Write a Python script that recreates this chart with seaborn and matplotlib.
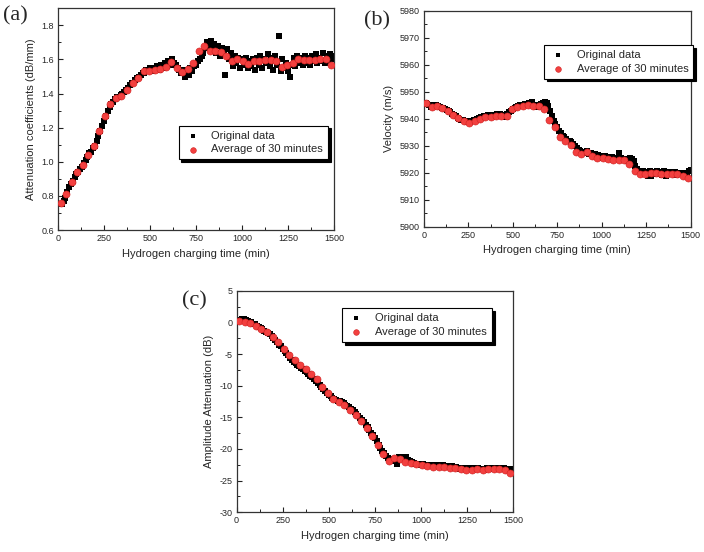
import numpy as np
import matplotlib
matplotlib.use("Agg")
import matplotlib.pyplot as plt
import matplotlib.ticker as mticker
import seaborn as sns

# ── Data ──────────────────────────────────────────────────────────────────────
# original readings every 10 min, 30-minute averages centred on 15, 45, ... min
T_RAW = list(range(10, 1501, 10))
T_AVG = list(range(15, 1500, 30))

ATT_RAW = [
    0.75, 0.75, 0.77, 0.79, 0.82, 0.85, 0.87, 0.89, 0.91, 0.93,
    0.94, 0.96, 0.97, 0.99, 1.01, 1.03, 1.05, 1.06, 1.08, 1.09,
    1.12, 1.15, 1.18, 1.21, 1.24, 1.27, 1.30, 1.32, 1.34, 1.35,
    1.37, 1.38, 1.38, 1.39, 1.40, 1.41, 1.42, 1.43, 1.45, 1.46,
    1.46, 1.48, 1.49, 1.50, 1.51, 1.52, 1.52, 1.54, 1.53, 1.55,
    1.53, 1.55, 1.54, 1.56, 1.54, 1.57, 1.55, 1.58, 1.56, 1.59,
    1.57, 1.60, 1.58, 1.57, 1.55, 1.54, 1.52, 1.54, 1.50, 1.53,
    1.51, 1.55, 1.53, 1.56, 1.57, 1.59, 1.60, 1.62, 1.64, 1.67,
    1.70, 1.68, 1.71, 1.66, 1.69, 1.64, 1.68, 1.62, 1.67, 1.63,
    1.51, 1.66, 1.60, 1.64, 1.56, 1.62, 1.58, 1.61, 1.55, 1.60,
    1.57, 1.61, 1.55, 1.59, 1.56, 1.60, 1.54, 1.61, 1.57, 1.62,
    1.55, 1.60, 1.58, 1.63, 1.56, 1.61, 1.54, 1.62, 1.57, 1.74,
    1.53, 1.60, 1.55, 1.58, 1.53, 1.50, 1.57, 1.61, 1.56, 1.62,
    1.58, 1.61, 1.57, 1.62, 1.58, 1.61, 1.57, 1.62, 1.59, 1.63,
    1.58, 1.61, 1.59, 1.64, 1.58, 1.62, 1.59, 1.63, 1.60, 1.62,
]
ATT_AVG = [
    0.761, 0.812, 0.883, 0.938, 0.980, 1.039, 1.092, 1.178, 1.269, 1.336,
    1.373, 1.385, 1.422, 1.460, 1.490, 1.533, 1.535, 1.538, 1.546, 1.556,
    1.584, 1.548, 1.529, 1.544, 1.582, 1.652, 1.678, 1.650, 1.652, 1.643,
    1.619, 1.588, 1.601, 1.590, 1.574, 1.588, 1.590, 1.595, 1.597, 1.593,
    1.558, 1.568, 1.578, 1.603, 1.595, 1.595, 1.597, 1.603, 1.603, 1.568,
]

VEL_RAW = [
    5946.0, 5945.5, 5945.0, 5944.5, 5944.8, 5945.0, 5944.9, 5944.6, 5944.3, 5944.0,
    5943.9, 5943.6, 5943.3, 5942.9, 5942.4, 5941.9, 5941.4, 5940.9, 5940.4, 5940.0,
    5939.7, 5939.4, 5939.2, 5939.0, 5938.9, 5938.8, 5939.0, 5939.4, 5939.7, 5940.0,
    5940.3, 5940.5, 5940.7, 5940.9, 5941.0, 5941.2, 5941.1, 5941.3, 5941.5, 5941.3,
    5941.6, 5941.4, 5941.7, 5941.5, 5941.2, 5940.6, 5941.8, 5942.5, 5943.0, 5943.6,
    5943.9, 5944.3, 5944.6, 5944.9, 5945.0, 5944.6, 5945.5, 5945.2, 5946.0, 5945.4,
    5946.3, 5945.1, 5944.4, 5945.0, 5944.6, 5945.6, 5946.0, 5946.3, 5945.8, 5944.6,
    5942.8, 5940.9, 5939.2, 5937.9, 5936.8, 5935.6, 5934.6, 5933.7, 5933.1, 5932.4,
    5931.9, 5931.6, 5931.2, 5930.6, 5930.0, 5929.3, 5928.5, 5927.9, 5927.6, 5927.8,
    5927.2, 5928.1, 5927.0, 5927.4, 5926.5, 5927.0, 5926.2, 5926.6, 5925.8, 5926.3,
    5925.6, 5926.1, 5925.4, 5925.9, 5925.2, 5925.8, 5925.0, 5925.6, 5924.9, 5927.3,
    5925.3, 5924.6, 5925.1, 5924.4, 5924.9, 5925.6, 5925.0, 5924.2, 5922.6, 5921.3,
    5920.8, 5920.2, 5920.6, 5919.6, 5920.3, 5918.9, 5920.5, 5918.6, 5920.1, 5919.4,
    5920.6, 5919.7, 5920.2, 5919.3, 5920.5, 5918.9, 5920.4, 5919.5, 5920.3, 5919.6,
    5920.1, 5919.2, 5920.0, 5919.4, 5919.8, 5919.3, 5919.9, 5919.6, 5920.5, 5921.0,
]
VEL_AVG = [
    5945.7, 5944.2, 5944.7, 5943.8, 5943.0, 5941.5, 5940.1, 5939.3, 5938.5, 5939.3,
    5940.0, 5940.5, 5940.8, 5941.0, 5941.0, 5941.1, 5943.5, 5944.2, 5944.8, 5945.1,
    5944.8, 5944.8, 5943.6, 5939.5, 5936.8, 5933.2, 5931.9, 5930.3, 5927.8, 5926.8,
    5927.5, 5926.2, 5925.6, 5925.3, 5925.1, 5924.6, 5924.6, 5924.8, 5923.2, 5920.8,
    5919.5, 5919.4, 5919.8, 5920.0, 5919.6, 5919.6, 5919.6, 5919.6, 5918.9, 5917.9,
]

AMP_RAW = [
    0.2, 0.4, 0.6, 0.5, 0.3, 0.2, 0.1, 0.0, -0.2, -0.3,
    -0.5, -0.7, -0.9, -1.1, -1.3, -1.5, -1.7, -1.9, -2.2, -2.5,
    -2.8, -3.1, -3.5, -3.8, -4.2, -4.5, -4.9, -5.2, -5.6, -5.9,
    -6.2, -6.4, -6.7, -6.9, -7.2, -7.4, -7.7, -7.9, -8.2, -8.4,
    -8.7, -9.0, -9.2, -9.5, -9.9, -10.2, -10.6, -10.9, -11.2, -11.4,
    -11.7, -11.9, -12.1, -12.3, -12.4, -12.5, -12.6, -12.8, -13.0, -13.2,
    -13.4, -13.7, -13.9, -14.2, -14.5, -14.8, -15.1, -15.5, -15.8, -16.2,
    -16.6, -17.0, -17.4, -17.8, -18.3, -18.8, -19.3, -19.8, -20.3, -20.7,
    -21.1, -21.4, -21.6, -21.8, -21.9, -21.8, -22.4, -21.3, -21.4, -21.3,
    -21.5, -21.3, -21.7, -21.9, -22.1, -22.2, -22.3, -22.3, -22.4, -22.5,
    -22.4, -22.5, -22.5, -22.6, -22.5, -22.6, -22.6, -22.7, -22.6, -22.7,
    -22.7, -22.6, -22.8, -22.7, -22.8, -22.8, -22.7, -22.8, -22.9, -23.0,
    -23.1, -23.0, -23.1, -23.0, -23.1, -23.0, -23.2, -23.1, -23.0, -23.1,
    -23.0, -23.2, -23.1, -23.3, -23.1, -23.0, -23.1, -23.0, -23.1, -23.0,
    -23.1, -23.0, -23.0, -23.1, -23.0, -23.1, -23.2, -23.3, -23.2, -23.3,
]
AMP_AVG = [
    0.27, 0.11, -0.05, -0.52, -1.05, -1.52, -2.26, -3.10, -4.16, -5.10,
    -5.95, -6.69, -7.42, -8.16, -9.00, -10.16, -11.21, -12.06, -12.53, -13.06,
    -13.85, -14.69, -15.53, -16.74, -17.90, -19.32, -20.75, -21.85, -21.38, -21.53,
    -22.11, -22.27, -22.43, -22.53, -22.64, -22.80, -22.80, -22.85, -22.95, -23.06,
    -23.22, -23.32, -23.32, -23.22, -23.32, -23.17, -23.11, -23.22, -23.37, -23.80,
]

XLABEL = "Hydrogen charging time (min)"

# ── Style ─────────────────────────────────────────────────────────────────────
sns.set_theme(style="ticks")
plt.rcParams["font.family"] = ["Liberation Sans", "DejaVu Sans"]
plt.rcParams["axes.linewidth"] = 0.9
RED = "#f2403f"


def draw_panel(fig, rect, raw, avg, ylim, major, ylabel, tag, tag_xy, leg_xy, fmt):
    ax = fig.add_axes(rect)
    sns.scatterplot(x=T_RAW, y=raw, ax=ax, marker="s", s=15, color="black",
                    linewidth=0, label="Original data", zorder=2)
    sns.scatterplot(x=T_AVG, y=avg, ax=ax, marker="o", s=26, color=RED,
                    edgecolor="#d02020", linewidth=0.4,
                    label="Average of 30 minutes", zorder=3)
    ax.set_xlim(0, 1500)
    ax.set_ylim(*ylim)
    ax.xaxis.set_major_locator(mticker.MultipleLocator(250))
    ax.xaxis.set_minor_locator(mticker.MultipleLocator(125))
    ax.yaxis.set_major_locator(mticker.MultipleLocator(major))
    ax.yaxis.set_minor_locator(mticker.MultipleLocator(major / 2))
    ax.yaxis.set_major_formatter(mticker.FormatStrFormatter(fmt))
    ax.tick_params(which="both", direction="in", labelsize=6.5, color="#222222")
    ax.tick_params(which="major", length=3.5, width=0.8, pad=3)
    ax.tick_params(which="minor", length=2, width=0.7)
    for sp in ax.spines.values():
        sp.set_color("#333333")
    ax.set_xlabel(XLABEL, fontsize=8, labelpad=4)
    ax.set_ylabel(ylabel, fontsize=8, labelpad=4)
    leg = ax.legend(loc="upper left", bbox_to_anchor=leg_xy, fontsize=8,
                    frameon=True, fancybox=False, edgecolor="black", framealpha=1,
                    shadow={"color": "black", "alpha": 1.0}, borderpad=0.45,
                    handletextpad=0.9, handlelength=1.6, labelspacing=0.35,
                    markerscale=0.8)
    leg.get_frame().set_linewidth(0.8)
    fig.text(tag_xy[0], tag_xy[1], tag, fontsize=16, va="center", ha="left",
             family=["Liberation Serif", "DejaVu Serif"])
    return ax


fig = plt.figure(figsize=(7.04, 5.52), dpi=100)

draw_panel(fig, [0.0824, 0.5833, 0.392, 0.4017], ATT_RAW, ATT_AVG, (0.6, 1.9), 0.2,
           "Attenuation coefficients (dB/mm)", "(a)", (0.004, 0.972), (0.417, 0.496), "%.1f")
draw_panel(fig, [0.602, 0.5893, 0.379, 0.3913], VEL_RAW, VEL_AVG, (5900, 5980), 10,
           "Velocity (m/s)", "(b)", (0.517, 0.962), (0.429, 0.868), "%d")
draw_panel(fig, [0.336, 0.0719, 0.393, 0.4015], AMP_RAW, AMP_AVG, (-30, 5), 5,
           "Amplitude Attenuation (dB)", "(c)", (0.259, 0.455), (0.362, 0.946), "%d")

fig.savefig("out.png", dpi=100)
